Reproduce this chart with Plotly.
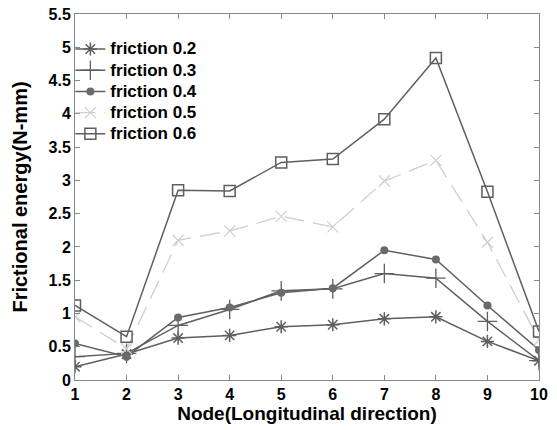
import plotly.graph_objects as go

nodes = [1, 2, 3, 4, 5, 6, 7, 8, 9, 10]
f02 = [0.20, 0.39, 0.63, 0.67, 0.80, 0.83, 0.92, 0.95, 0.58, 0.29]
f03 = [0.35, 0.40, 0.82, 1.06, 1.34, 1.37, 1.60, 1.53, 0.88, 0.29]
f04 = [0.55, 0.35, 0.94, 1.09, 1.31, 1.38, 1.95, 1.81, 1.12, 0.45]
f05 = [0.95, 0.47, 2.10, 2.24, 2.46, 2.30, 2.99, 3.30, 2.07, 0.60]
f06 = [1.12, 0.65, 2.85, 2.84, 3.27, 3.32, 3.92, 4.84, 2.83, 0.73]
names = ["friction 0.2", "friction 0.3", "friction 0.4", "friction 0.5", "friction 0.6"]
x_ticks = [1, 2, 3, 4, 5, 6, 7, 8, 9, 10]
y_ticks = [0, 0.5, 1, 1.5, 2, 2.5, 3, 3.5, 4, 4.5, 5, 5.5]
y_tick_text = ["0", "0.5", "1", "1.5", "2", "2.5", "3", "3.5", "4", "4.5", "5", "5.5"]

dark = "#5f5f5f"
light = "#cfcfcf"

styles = [
    dict(line=dict(color=dark, width=1.5),
         marker=dict(symbol="asterisk-open", size=11, color=dark, line=dict(width=1.5, color=dark))),
    dict(line=dict(color=dark, width=1.5),
         marker=dict(symbol="cross-thin-open", size=14, color=dark, line=dict(width=1.3, color=dark))),
    dict(line=dict(color=dark, width=1.5),
         marker=dict(symbol="circle", size=8, color="#6a6a6a")),
    dict(line=dict(color=light, width=1.3, dash="20px,9px"),
         marker=dict(symbol="x-thin-open", size=11, color=light, line=dict(width=1.2, color=light))),
    dict(line=dict(color=dark, width=1.5),
         marker=dict(symbol="square-open", size=11, color=dark, line=dict(width=1.5, color=dark))),
]

fig = go.Figure()
for name, ys, st in zip(names, [f02, f03, f04, f05, f06], styles):
    # legend row spacing follows the legend font; the label itself is drawn a bit larger
    label = f'<span style="font-size:17px">{name}</span>'
    fig.add_trace(go.Scatter(x=nodes, y=ys, mode="lines+markers", name=label, **st))

font_family = "Liberation Sans, Arial, sans-serif"
axis_common = dict(
    ticks="inside", ticklen=5, tickcolor="#888",
    showline=True, linecolor="#888", linewidth=1, mirror="ticks",
    showgrid=False, zeroline=False, automargin=False,
    tickfont=dict(size=16, weight="bold", color="black"),
)
fig.update_layout(
    width=557, height=430,
    margin=dict(l=75, r=18, t=14, b=50),
    paper_bgcolor="white", plot_bgcolor="white",
    font=dict(family=font_family, color="black"),
    showlegend=True,
    legend=dict(x=-0.01, y=0.947, xanchor="left", yanchor="top",
                bgcolor="rgba(0,0,0,0)",
                font=dict(size=14, family=font_family, color="black", weight="bold"),
                itemwidth=30, tracegroupgap=0),
    xaxis=dict(range=[1, 10], tickvals=x_ticks,
               title=dict(text="Node(Longitudinal direction)", standoff=3,
                          font=dict(size=19, weight="bold", color="black")),
               **axis_common),
    yaxis=dict(range=[0, 5.5], tickvals=y_ticks, ticktext=y_tick_text,
               title=dict(text="Frictional energy(N-mm)",
                          font=dict(size=20, weight="bold", color="black")),
               **axis_common),
)

fig.write_html("out.html")
